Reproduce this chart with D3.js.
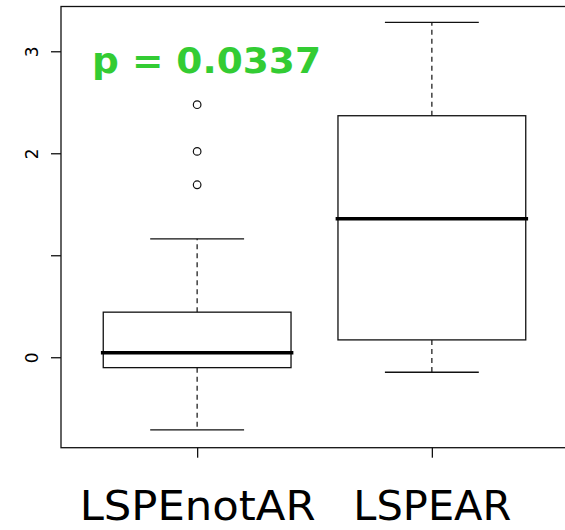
<!DOCTYPE html>
<html>
<head>
<meta charset="utf-8">
<script src="https://cdn.jsdelivr.net/npm/d3@7"></script>
<style>
  body { margin: 0; background: white; }
</style>
</head>
<body>
<div id="grafico"></div>
<script>
const WIDTH = 565;
const HEIGHT = 530;

// values
const categories = ["LSPEnotAR", "LSPEAR"];
const lowerWhisker = [-0.713, -0.147];
const q1 = [-0.102, 0.170];
const median = [0.045, 1.357];
const q3 = [0.442, 2.368];
const upperWhisker = [1.161, 3.284];
const outliers = [[1.691, 2.018, 2.476], []];
const yTicks = [0, 1, 2, 3];
const yTickLabels = ["0", "", "2", "3"];
const pText = "p = 0.0337";

let svg = d3.select("#grafico")
    .append("svg")
    .attr("width", WIDTH)
    .attr("height", HEIGHT);

let x = d3.scaleLinear().domain([0.42, 2.58]).range([61, 568]);
let y = d3.scaleLinear().domain([-0.887, 3.439]).range([447.7, 6.5]);

let boxes = categories.map((c, i) => ({
    pos: i + 1,
    lo: lowerWhisker[i], q1: q1[i], med: median[i], q3: q3[i], hi: upperWhisker[i],
    out: outliers[i]
}));

let g = svg.append("g");

// dashed whiskers
g.selectAll(".whisk-up")
    .data(boxes)
    .enter()
    .append("line")
    .attr("x1", d => x(d.pos)).attr("x2", d => x(d.pos))
    .attr("y1", d => y(d.q3)).attr("y2", d => y(d.hi))
    .style("stroke", "#222").style("stroke-width", 1.3)
    .style("stroke-dasharray", "5,4");

g.selectAll(".whisk-lo")
    .data(boxes)
    .enter()
    .append("line")
    .attr("x1", d => x(d.pos)).attr("x2", d => x(d.pos))
    .attr("y1", d => y(d.q1)).attr("y2", d => y(d.lo))
    .style("stroke", "#222").style("stroke-width", 1.3)
    .style("stroke-dasharray", "5,4");

// caps
["hi", "lo"].forEach(k => {
    g.selectAll(".cap-" + k)
        .data(boxes)
        .enter()
        .append("line")
        .attr("x1", d => x(d.pos - 0.2)).attr("x2", d => x(d.pos + 0.2))
        .attr("y1", d => y(d[k])).attr("y2", d => y(d[k]))
        .style("stroke", "#111").style("stroke-width", 1.3);
});

// boxes
g.selectAll(".box")
    .data(boxes)
    .enter()
    .append("rect")
    .attr("x", d => x(d.pos - 0.4))
    .attr("width", d => x(d.pos + 0.4) - x(d.pos - 0.4))
    .attr("y", d => y(d.q3))
    .attr("height", d => y(d.q1) - y(d.q3))
    .style("fill", "white")
    .style("stroke", "#111")
    .style("stroke-width", 1.3);

// medians
g.selectAll(".med")
    .data(boxes)
    .enter()
    .append("line")
    .attr("x1", d => x(d.pos - 0.41)).attr("x2", d => x(d.pos + 0.41))
    .attr("y1", d => y(d.med)).attr("y2", d => y(d.med))
    .style("stroke", "black").style("stroke-width", 3.5);

// outliers
let outPts = [];
boxes.forEach(b => b.out.forEach(v => outPts.push({pos: b.pos, v: v})));
g.selectAll(".out")
    .data(outPts)
    .enter()
    .append("circle")
    .attr("cx", d => x(d.pos))
    .attr("cy", d => y(d.v))
    .attr("r", 3.8)
    .style("fill", "none")
    .style("stroke", "#111")
    .style("stroke-width", 1.2);

// frame
svg.append("rect")
    .attr("x", 61).attr("y", 6.5)
    .attr("width", 568 - 61).attr("height", 447.7 - 6.5)
    .style("fill", "none")
    .style("stroke", "#111")
    .style("stroke-width", 1.3);

// y axis
let yAxis = svg.append("g")
    .attr("transform", "translate(61,0)")
    .call(d3.axisLeft(y).tickValues(yTicks).tickSize(10)
        .tickFormat((d, i) => yTickLabels[i]));
yAxis.select(".domain").remove();
yAxis.selectAll("line").style("stroke", "#111").style("stroke-width", 1.3);
yAxis.selectAll("text")
    .attr("transform", "rotate(-90)")
    .attr("x", 0).attr("y", -29).attr("dy", null)
    .style("text-anchor", "middle")
    .style("dominant-baseline", "central")
    .style("font-family", "DejaVu Sans")
    .style("font-size", "17px")
    .style("fill", "black");

// x axis
let labelWidths = [236, 158];
let xAxis = svg.append("g")
    .attr("transform", "translate(0,447.7)")
    .call(d3.axisBottom(x).tickValues([1, 2]).tickSize(10)
        .tickFormat(d => categories[d - 1]));
xAxis.select(".domain").remove();
xAxis.selectAll("line").style("stroke", "#111").style("stroke-width", 1.3);
xAxis.selectAll("text")
    .attr("y", 72).attr("dy", null)
    .attr("textLength", (d, i) => labelWidths[i])
    .attr("lengthAdjust", "spacingAndGlyphs")
    .style("font-family", "DejaVu Sans")
    .style("font-size", "40px")
    .style("fill", "black");

// p value
svg.append("text")
    .attr("x", 92)
    .attr("y", 73)
    .attr("textLength", 229)
    .attr("lengthAdjust", "spacingAndGlyphs")
    .style("font-family", "DejaVu Sans")
    .style("font-weight", "bold")
    .style("font-size", "35px")
    .style("fill", "#33cc33")
    .text(pText);
</script>
</body>
</html>
